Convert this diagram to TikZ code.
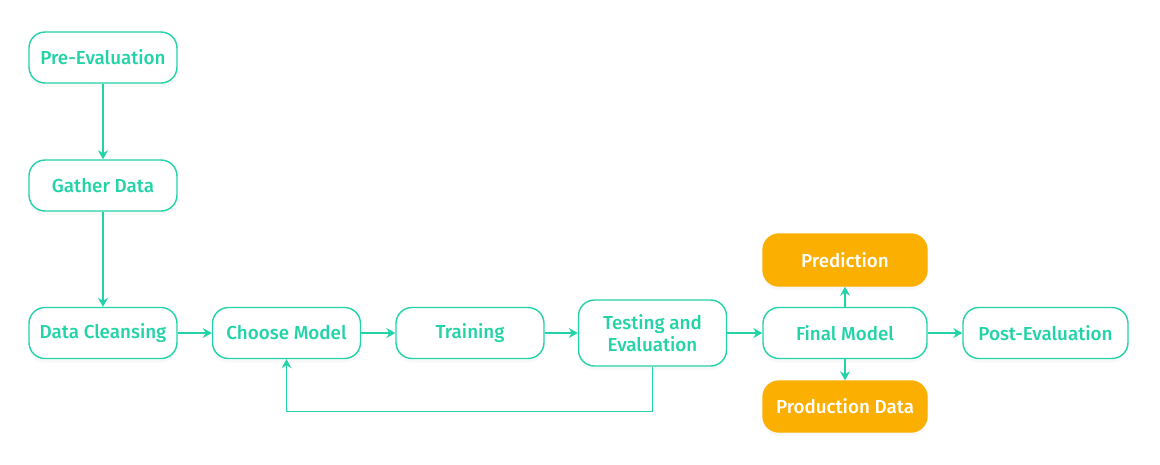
\documentclass[tikz,border=0pt]{standalone}
\usepackage{fontspec}
\setmainfont{Fira Sans Medium}
\usetikzlibrary{arrows.meta,shadows}
\definecolor{teal1}{HTML}{22D3A8}
\definecolor{amber1}{HTML}{FBAF00}
\begin{document}
\begin{tikzpicture}
[
x=1pt, y=-1pt,
every node/.style ={font=\fontsize{18.8}{22}\selectfont},
step box/.style={rectangle, rounded corners=16pt, draw=teal1, line width=1.4pt, fill=white, text=teal1,
  minimum width=148pt, minimum height=51pt, align=center, inner sep=2pt,
  drop shadow={shadow xshift=0pt, shadow yshift=-4pt, opacity=0.06}},
out box/.style={step box, draw=amber1, fill=amber1, text=white},
flow/.style={teal1, line width=1.4pt, -{Stealth[length=9pt, width=10pt, inset=3pt]}},
]
%
\useasboundingbox (0,0) rectangle (1160,464);
%
\node [step box] (pre)     at ( 103, 57.5)  {Pre-Evaluation};
\node [step box] (gather)  at ( 103,185.5)  {Gather Data};
\node [step box] (cleanse) at ( 103,333)    {Data Cleansing};
\node [step box] (choose)  at ( 286.5,333)  {Choose Model};
\node [step box] (train)   at ( 470,333)    {Training};
\node [step box, minimum height=66pt] (test) at ( 652.5,333) {Testing and\\Evaluation};
\node [step box, minimum width=164pt] (final) at ( 845,333) {Final Model};
\node [step box, minimum width=165pt] (post)  at (1045.5,333) {Post-Evaluation};
%
\node [out box, minimum width=164pt, minimum height=52pt] (pred) at ( 845,260)   {Prediction};
\node [out box, minimum width=164pt] (prod) at ( 845,406.5) {Production Data};
%
\draw [flow]  (pre.south)     -- (gather.north) ;
\draw [flow]  (gather.south)  -- (cleanse.north) ;
\draw [flow]  (cleanse.east)  -- (choose.west) ;
\draw [flow]  (choose.east)   -- (train.west) ;
\draw [flow]  (train.east)    -- (test.west) ;
\draw [flow]  (test.east)     -- (final.west) ;
\draw [flow]  (final.east)    -- (post.west) ;
\draw [flow]  (final.north)   -- (pred.south) ;
\draw [flow]  (final.south)   -- (prod.north) ;
%
\draw [flow]  (test.south) -- ++(0,45) -| (choose.south) ;
%
\end{tikzpicture}
\end{document}
